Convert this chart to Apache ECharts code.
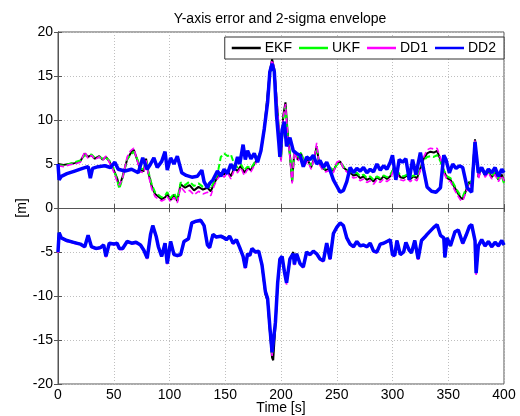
<!DOCTYPE html>
<html><head><meta charset="utf-8">
<script src="https://cdn.jsdelivr.net/npm/echarts@6/dist/echarts.min.js"></script>
<style>html,body{margin:0;padding:0;background:#fff}#c{width:520px;height:416px}</style>
</head><body><div id="c"></div>
<script>
const titleText = 'Y-axis error and 2-sigma envelope';
const xName = 'Time [s]';
const yName = '[m]';
const legendNames = ['EKF','UKF','DD1','DD2'];
const xTicks = [0,50,100,150,200,250,300,350,400];
const yTicks = [-20,-15,-10,-5,0,5,10,15,20];

// upper traces of EKF / UKF / DD1 (shared time grid)
const othT   = [0,5,10,15,20,24,27,30,33,37,40,43,46,50,53,55,58,62,65,68,71,74,77,79,81,84,87,90,93,96,98,101,104,107,110,114,118,122,126,130,134,137,140,143,146,149,152,155,158,161,164,167,170,173,176,179,182,185,188,190,192,194,196,198,200,202,204,206,208,210,212,215,218,221,224,227,230,232,234,237,240,244,247,250,253,256,259,262,265,268,271,274,277,280,283,286,289,292,295,298,301,304,307,310,313,316,319,322,325,328,331,334,337,340,343,346,349,352,355,358,361,363,366,369,371,374,377,380,383,386,389,392,395,398,400];
const ekfUp  = [5.0,4.9,5.0,5.1,5.3,6.2,5.8,6.0,5.6,5.9,5.5,5.8,5.3,4.3,3.4,2.4,3.6,5.5,6.2,6.6,5.5,4.3,4.2,5.6,4.0,2.5,1.6,1.3,1.0,1.2,1.6,0.9,1.5,0.8,2.7,2.3,2.6,2.0,2.4,2.1,2.3,1.9,2.8,3.5,4.0,3.8,4.2,3.6,4.5,4.2,4.8,4.0,4.6,4.3,5.0,5.6,6.5,9.0,13.0,15.5,16.9,15.8,12.5,9.0,5.5,10.5,12.0,8.5,6.0,3.0,6.5,5.5,6.2,5.0,5.5,4.6,5.8,7.0,5.2,4.6,4.3,4.5,4.2,5.0,5.3,4.6,4.3,4.0,3.7,3.8,3.4,3.6,3.2,3.4,3.0,3.5,3.2,3.6,3.3,3.6,4.5,4.2,3.5,3.4,3.7,3.3,3.6,3.4,4.5,5.6,6.2,6.4,6.3,6.5,5.5,4.2,3.4,3.2,2.5,1.8,1.2,1.0,2.0,3.0,2.6,7.8,3.5,4.6,3.7,4.2,3.5,4.0,3.2,3.8,3.0];
const ukfUp  = [4.9,4.8,5.0,5.2,5.4,6.0,5.9,6.1,5.7,5.8,5.6,5.7,5.4,4.4,3.2,2.2,3.4,5.6,6.0,6.4,5.6,4.5,4.4,5.5,4.2,2.7,1.8,1.5,1.2,1.4,1.8,1.1,1.7,1.0,2.9,2.6,3.0,2.5,2.8,2.4,2.6,2.2,3.0,3.8,5.8,6.2,5.9,6.1,5.0,4.6,5.0,4.3,4.7,4.5,5.1,5.7,6.4,8.8,12.5,15.0,15.9,15.2,12.0,8.8,5.6,10.0,11.5,8.2,6.2,3.2,6.6,5.6,6.3,5.2,5.7,4.8,5.9,6.6,5.3,4.7,4.4,4.6,4.3,4.9,5.2,4.7,4.4,4.2,3.9,4.0,3.6,3.8,3.4,3.6,3.2,3.6,3.4,3.7,3.5,3.8,4.4,4.3,3.7,3.6,3.8,3.5,3.7,3.6,4.4,5.4,5.8,5.9,5.8,6.0,5.3,4.3,3.6,3.4,2.7,2.0,1.4,1.3,2.2,3.1,2.8,7.6,3.7,4.5,3.8,4.3,3.6,4.1,3.3,3.6,2.8];
const dd1Up  = [4.8,4.7,4.9,5.0,5.2,6.4,5.6,6.0,5.5,5.8,5.4,5.9,5.2,4.1,3.0,2.6,3.4,5.8,6.5,6.8,5.4,4.1,4.0,5.4,3.8,2.2,1.3,1.0,0.8,1.0,1.3,0.7,1.2,0.6,2.4,1.8,2.0,1.5,1.9,1.6,1.8,1.4,2.5,3.3,3.8,3.5,4.0,3.3,4.3,4.0,4.6,3.7,4.4,4.1,4.8,5.4,6.3,8.9,12.8,15.7,16.8,15.9,12.8,9.2,5.3,10.3,11.8,8.3,5.8,2.8,6.4,5.3,6.0,4.8,5.3,4.4,5.8,7.4,5.0,4.4,4.1,4.3,4.0,5.2,5.4,4.5,4.1,3.8,3.4,3.5,3.1,3.3,2.9,3.1,2.7,3.2,2.9,3.3,3.0,3.3,4.3,3.9,3.2,3.1,3.4,3.0,3.3,3.1,4.3,5.8,6.6,6.8,6.7,6.8,5.7,4.0,3.2,3.0,2.2,1.5,0.9,0.8,1.8,2.8,2.4,7.7,3.3,4.5,3.5,4.0,3.3,3.8,3.0,3.7,3.1];

// upper trace of DD2
const dd2UpT = [0,1,3,8,15,22,27,29,31,36,42,47,51,54,60,66,72,76,80,83,86,89,93,96,98,101,104,107,111,115,120,125,129,131,134,136,139,143,146,149,152,155,158,161,163,166,168,170,173,176,179,182,185,188,190,192,194,196,198,199,201,203,205,208,211,214,217,220,223,226,229,232,235,238,241,244,247,250,253,256,259,262,265,268,271,274,277,280,283,286,289,292,295,298,300,303,306,309,312,315,318,321,325,328,331,335,339,343,346,348,351,354,357,360,363,367,371,374,377,380,383,386,389,392,395,398,400];
const dd2Up  = [5.0,3.2,3.6,3.9,4.2,4.5,4.7,3.4,4.5,4.7,4.8,4.6,5.2,4.4,4.2,4.4,4.0,5.7,4.4,5.0,5.7,4.6,5.3,6.4,4.3,5.7,5.0,5.9,4.0,3.7,3.5,3.6,4.3,3.0,2.3,2.8,3.2,4.2,3.6,4.4,3.9,5.0,4.3,5.8,5.0,7.2,5.5,6.5,5.6,6.2,5.2,6.5,9.0,12.0,15.5,16.4,15.5,10.5,7.5,5.8,8.9,9.8,7.0,8.0,6.5,6.2,6.0,4.7,5.8,5.5,6.0,5.0,5.4,4.6,5.2,4.3,3.2,2.5,1.8,2.0,3.0,4.6,4.0,4.5,4.2,4.6,4.0,4.4,4.1,5.0,4.3,4.8,4.4,5.2,6.0,3.2,5.5,5.2,5.6,3.2,5.5,3.8,6.3,4.3,2.4,1.9,1.8,2.3,6.0,5.5,4.0,5.0,4.5,4.8,4.6,2.3,1.8,7.5,4.0,4.6,3.8,4.4,4.0,4.6,3.6,4.4,4.0];

// lower traces (shared time grid)
const lowT   = [0,1,3,8,14,20,24,27,30,34,38,41,43,46,50,53,55,58,62,66,70,74,77,80,83,85,88,90,93,96,98,101,104,107,110,113,117,120,124,128,131,134,136,139,142,146,149,151,154,157,160,163,166,168,170,172,174,177,180,183,186,188,190,192,193,195,197,199,201,203,205,208,211,212,214,217,220,223,226,229,232,235,238,241,244,247,250,253,256,259,262,265,268,271,274,277,280,283,286,289,292,295,298,300,302,304,307,310,312,315,317,320,323,326,329,331,334,337,340,343,346,347,349,352,356,359,363,366,369,371,374,375,377,380,383,386,389,392,395,398,400];
const dd2Low = [-5.0,-2.8,-3.4,-3.7,-3.9,-4.1,-4.4,-3.1,-4.4,-4.6,-4.5,-4.2,-5.5,-4.0,-4.1,-4.0,-4.6,-4.6,-3.8,-4.0,-3.9,-4.2,-4.8,-5.7,-3.0,-2.0,-3.2,-4.4,-5.5,-4.0,-6.3,-3.8,-5.3,-5.4,-5.3,-3.8,-3.5,-1.7,-1.5,-1.4,-2.0,-4.2,-4.5,-3.0,-3.3,-3.2,-3.4,-3.6,-3.2,-4.0,-3.6,-4.5,-5.5,-6.8,-5.2,-5.4,-4.6,-5.0,-4.9,-6.5,-9.5,-10.3,-13.5,-16.4,-16.5,-13.0,-8.5,-5.8,-5.5,-7.2,-8.5,-5.8,-5.2,-6.4,-5.2,-6.3,-6.7,-5.0,-5.3,-4.9,-5.2,-5.8,-6.0,-4.0,-5.8,-2.9,-2.2,-1.7,-2.0,-3.4,-4.1,-4.4,-3.8,-4.3,-4.2,-4.4,-4.0,-4.9,-5.0,-4.1,-4.0,-3.8,-3.6,-5.3,-5.4,-3.7,-5.3,-5.0,-3.9,-4.8,-5.1,-3.7,-5.8,-3.7,-3.3,-3.0,-2.6,-2.2,-1.9,-3.1,-3.4,-5.6,-3.4,-4.3,-2.7,-2.5,-4.0,-3.1,-2.1,-1.9,-3.7,-7.4,-4.3,-3.6,-4.3,-3.8,-4.4,-3.9,-4.3,-3.7,-4.2];
const ekfLow = [-5.0,-2.8,-3.4,-3.7,-3.9,-4.1,-4.4,-3.1,-4.4,-4.6,-4.5,-4.2,-5.5,-4.0,-4.1,-4.0,-4.6,-4.6,-3.8,-4.0,-3.9,-4.2,-4.8,-5.7,-3.0,-2.0,-3.2,-4.4,-5.5,-4.0,-6.3,-3.8,-5.3,-5.4,-5.3,-3.8,-3.5,-1.7,-1.5,-1.4,-2.0,-4.2,-4.5,-3.0,-3.3,-3.2,-3.3,-3.5,-3.2,-4.0,-3.6,-4.5,-5.5,-6.8,-5.2,-5.4,-4.6,-5.0,-4.9,-6.6,-9.8,-10.6,-14.0,-17.0,-17.3,-13.4,-8.7,-5.8,-5.5,-7.2,-8.5,-5.8,-5.0,-6.4,-5.2,-6.3,-6.7,-5.0,-5.3,-4.9,-5.2,-5.8,-6.0,-4.0,-5.8,-2.9,-2.2,-1.7,-2.0,-3.4,-4.1,-4.4,-3.8,-4.3,-4.2,-4.4,-4.0,-4.9,-5.0,-4.1,-4.0,-3.8,-3.6,-5.3,-5.4,-3.7,-5.3,-5.0,-3.9,-4.8,-5.1,-3.7,-5.8,-3.7,-3.3,-3.0,-2.6,-2.2,-1.9,-3.1,-3.4,-5.6,-3.4,-4.3,-2.7,-2.5,-4.0,-3.1,-2.1,-1.9,-3.7,-7.4,-4.3,-3.6,-4.3,-3.8,-4.4,-3.9,-4.3,-3.7,-4.2];
const ukfLow = [-5.0,-2.8,-3.4,-3.7,-3.9,-4.1,-4.4,-3.1,-4.4,-4.6,-4.5,-4.2,-5.5,-4.0,-4.1,-4.0,-4.6,-4.6,-3.8,-4.0,-3.9,-4.2,-4.8,-5.7,-3.0,-2.0,-3.2,-4.4,-5.5,-4.0,-6.3,-3.8,-5.3,-5.4,-5.3,-3.8,-3.5,-1.7,-1.5,-1.4,-2.0,-4.2,-4.5,-3.0,-3.3,-3.2,-3.4,-3.6,-3.2,-4.0,-3.6,-4.5,-5.5,-6.8,-5.2,-5.4,-4.6,-5.0,-4.9,-6.5,-9.6,-10.4,-13.7,-16.6,-16.8,-13.1,-8.6,-5.8,-5.5,-7.2,-8.5,-5.8,-5.2,-6.4,-5.2,-6.3,-6.7,-5.0,-5.3,-4.9,-5.2,-5.8,-6.0,-4.0,-5.8,-2.9,-2.2,-1.7,-2.0,-3.4,-4.1,-4.4,-3.8,-4.3,-4.2,-4.4,-4.0,-4.9,-5.0,-4.1,-4.0,-3.8,-3.6,-5.3,-5.4,-3.7,-5.3,-5.0,-3.9,-4.8,-5.1,-3.7,-5.8,-3.7,-3.3,-3.0,-2.6,-2.2,-1.9,-3.1,-3.4,-5.6,-3.4,-4.3,-2.7,-2.5,-4.0,-3.1,-2.1,-1.9,-3.7,-7.4,-4.3,-3.6,-4.3,-3.8,-4.4,-3.9,-4.3,-3.7,-4.2];
const dd1Low = [-5.1,-2.9,-3.5,-3.8,-4.0,-4.2,-4.5,-3.2,-4.5,-4.7,-4.6,-4.3,-5.6,-4.1,-4.2,-4.1,-4.7,-4.7,-3.9,-4.1,-4.0,-4.3,-4.9,-5.8,-3.1,-2.1,-3.3,-4.5,-5.6,-4.1,-6.4,-3.9,-5.4,-5.5,-5.4,-3.9,-3.6,-1.8,-1.6,-1.5,-2.1,-4.3,-4.6,-3.1,-3.4,-3.3,-3.5,-3.7,-3.3,-4.1,-3.7,-4.6,-5.6,-6.9,-5.3,-5.5,-4.7,-5.1,-5.0,-6.6,-9.7,-10.5,-13.8,-16.8,-17.0,-13.3,-8.7,-5.9,-5.6,-7.3,-8.7,-5.9,-5.3,-6.5,-5.3,-6.4,-6.8,-5.1,-5.4,-5.0,-5.3,-5.9,-6.1,-4.1,-5.9,-3.0,-2.3,-1.8,-2.1,-3.5,-4.2,-4.5,-3.9,-4.4,-4.3,-4.5,-4.1,-5.0,-5.1,-4.2,-4.1,-3.9,-3.7,-5.4,-5.5,-3.8,-5.4,-5.1,-4.0,-4.9,-5.2,-3.8,-5.9,-3.8,-3.4,-3.1,-2.7,-2.3,-2.0,-3.2,-3.5,-5.7,-3.5,-4.4,-2.8,-2.6,-4.1,-3.2,-2.2,-2.0,-3.8,-7.6,-4.4,-3.7,-4.4,-3.9,-4.5,-4.0,-4.4,-3.8,-4.3];

const pairs = (ts, vs) => ts.map((t, i) => [t, vs[i]]);
const FONT = 'Liberation Sans, Arial, sans-serif';
const colors = {EKF:'#000000', UKF:'#00ff00', DD1:'#ff00ff', DD2:'#0000ff'};
const styles = {
  EKF: {width:2, type:'solid'},
  UKF: {width:2, type:[6,3]},
  DD1: {width:1.6, type:[6,3]},
  DD2: {width:3.5, type:'solid'}
};
function mk(name, data) {
  return {name, type:'line', data, symbol:'none', showSymbol:false, animation:false,
    color: colors[name], lineStyle: Object.assign({color: colors[name]}, styles[name]), z: 2};
}
const series = [
  mk('EKF', pairs(othT, ekfUp)), mk('EKF', pairs(lowT, ekfLow)),
  mk('UKF', pairs(othT, ukfUp)), mk('UKF', pairs(lowT, ukfLow)),
  mk('DD1', pairs(othT, dd1Up)), mk('DD1', pairs(lowT, dd1Low)),
  mk('DD2', pairs(dd2UpT, dd2Up)), mk('DD2', pairs(lowT, dd2Low))
];

const axisLineStyle = {color:'#555', width:1};
const chart = echarts.init(document.getElementById('c'), null, {renderer:'canvas'});
chart.setOption({
  backgroundColor:'#fff',
  animation:false,
  title:{text:titleText, left:275, top:7, textAlign:'center',
    textStyle:{fontFamily:FONT, fontSize:14, fontWeight:'normal', color:'#000'}},
  legend:{data:legendNames.map(n => ({name:n, icon:'rect'})), right:16, top:37, orient:'horizontal',
    backgroundColor:'#fff', borderColor:'#333', borderWidth:1, borderRadius:0,
    padding:[4,8,4,7], itemGap:7, itemWidth:29, itemHeight:2.5,
    textStyle:{fontFamily:FONT, fontSize:14, color:'#000', padding:[0,0,0,-1]}},
  grid:{left:58, right:16, top:32, bottom:32, outerBoundsMode:'none', containLabel:false,
    show:true, borderColor:'#555', borderWidth:1, backgroundColor:'#fff'},
  xAxis:[{type:'value', min:0, max:400, interval:50, name:xName, nameLocation:'middle', nameGap:17,
    nameMoveOverlap:false,
    nameTextStyle:{fontFamily:FONT, fontSize:14, color:'#000'},
    axisLine:{show:true, lineStyle:axisLineStyle},
    axisTick:{show:true, inside:true, length:4, lineStyle:axisLineStyle},
    axisLabel:{fontFamily:FONT, fontSize:14, color:'#000', margin:4},
    splitLine:{show:true, lineStyle:{color:'#bfbfbf', type:[1,2], width:1}}},
   {type:'value', position:'top', min:0, max:400, interval:50,
    axisLine:{show:true, lineStyle:axisLineStyle},
    axisTick:{show:true, inside:true, length:4, lineStyle:axisLineStyle},
    axisLabel:{show:false}, splitLine:{show:false}}],
  yAxis:[{type:'value', min:-20, max:20, interval:5, name:yName, nameLocation:'middle', nameGap:29,
    nameMoveOverlap:false,
    nameTextStyle:{fontFamily:FONT, fontSize:14, color:'#000'},
    axisLine:{show:true, lineStyle:axisLineStyle},
    axisTick:{show:true, inside:true, length:4, lineStyle:axisLineStyle},
    axisLabel:{fontFamily:FONT, fontSize:14, color:'#000', margin:5},
    splitLine:{show:true, lineStyle:{color:'#bfbfbf', type:[1,2], width:1}}},
   {type:'value', position:'right', min:-20, max:20, interval:5,
    axisLine:{show:true, lineStyle:axisLineStyle},
    axisTick:{show:true, inside:true, length:4, lineStyle:axisLineStyle},
    axisLabel:{show:false}, splitLine:{show:false}}],
  series
});
</script></body></html>
